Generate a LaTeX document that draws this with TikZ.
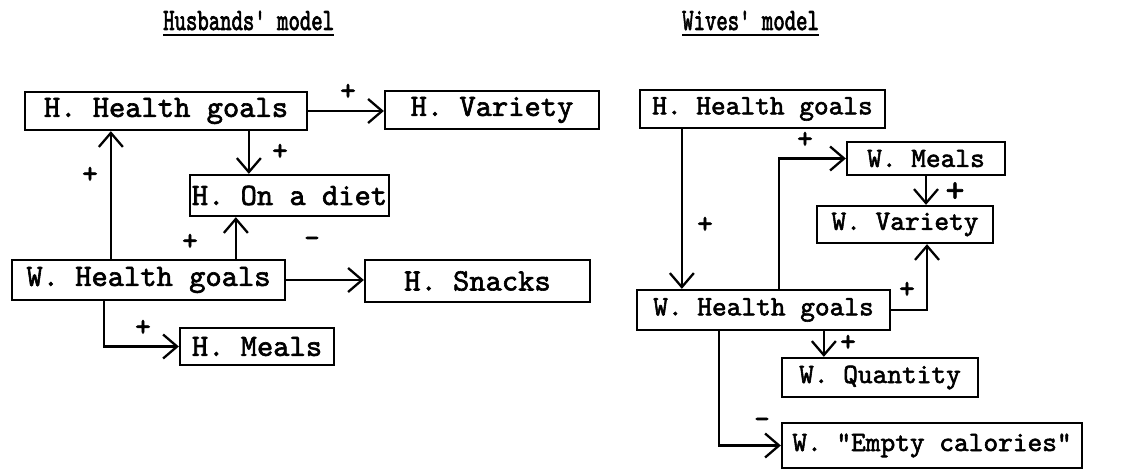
\documentclass[tikz,border=0pt]{standalone}
\usepackage{fontspec}
\newfontfamily\tw{lmmono10-regular.otf}[FakeBold=2]
\newfontfamily\twh{lmmono10-regular.otf}[FakeBold=2.6]
\usetikzlibrary{arrows.meta,calc}

\tikzset{
  box/.style={draw, line width=2.3pt, inner sep=0pt, rectangle},
  lbox/.style={box, font=\tw\fontsize{31}{34}\selectfont},
  rbox/.style={box, font=\tw\fontsize{28}{32}\selectfont},
  arr/.style={line width=2.3pt, -{Straight Barb[length=14pt,width=24pt,line width=2.3pt]}},
  sign/.style={font=\tw\fontsize{30}{32}\selectfont, inner sep=0pt},
  title/.style={font=\twh\fontsize{31}{34}\selectfont, inner sep=0pt, anchor=base west},
}

\begin{document}
\begin{tikzpicture}[x=1pt, y=-1pt]
\useasboundingbox (0,0) rectangle (1139,470);

% titles
\node[title] (t1) at (163,30) {\scalebox{0.70}[1]{Husbands' model}};
\node[title] (t2) at (682,30) {\scalebox{0.70}[1]{Wives' model}};
\draw[line width=2.6pt] ($(t1.base west)+(0,5)$) -- ($(t1.base east)+(0,5)$);
\draw[line width=2.6pt] ($(t2.base west)+(0,5)$) -- ($(t2.base east)+(0,5)$);

% husbands' model
\node[lbox, minimum width=282pt, minimum height=38pt] (hhL) at (166,111) {H. Health goals};
\node[lbox, minimum width=214pt, minimum height=38pt] (hvar) at (492,110) {H. Variety};
\node[lbox, minimum width=199pt, minimum height=41pt] (hdiet) at (289.5,195.5) {H. On a diet};
\node[lbox, minimum width=273pt, minimum height=40pt] (whL) at (148.5,280) {W. Health goals};
\node[lbox, minimum width=225pt, minimum height=42pt] (hsnack) at (477.5,281) {H. Snacks};
\node[lbox, minimum width=154pt, minimum height=37pt] (hmeals) at (257,346.5) {H. Meals};

\coordinate (c1) at ($(hdiet.north west)+(60,0)$);
\coordinate (c2) at ($(whL.north west)+(100,0)$);
\coordinate (c3) at ($(whL.north west)+(225,0)$);
\coordinate (c4) at ($(whL.south west)+(93,0)$);

\draw[arr] (hhL.east) -- (hhL.east -| hvar.west);
\draw[arr] (c1 |- hhL.south) -- (c1);
\draw[arr] (c2) -- (c2 |- hhL.south);
\draw[arr] (c3) -- (c3 |- hdiet.south);
\draw[arr] (whL.east) -- (whL.east -| hsnack.west);
\draw[arr] (c4) |- (hmeals.west);

\node[sign] (s1) at (348,92) {+};
\node[sign] (s2) at (280,152) {+};
\node[sign] (s3) at (90,175) {+};
\node[sign] (s4) at (190,242) {+};
\node[sign] (s5) at (312,242) {-};
\node[sign] (s6) at (143,328) {+};

% wives' model
\node[rbox, minimum width=245pt, minimum height=38pt] (hhR) at (762.5,109) {H. Health goals};
\node[rbox, minimum width=158pt, minimum height=33pt] (wmeals) at (926,158.5) {W. Meals};
\node[rbox, minimum width=176pt, minimum height=37pt] (wvar) at (905,224.5) {W. Variety};
\node[rbox, minimum width=253pt, minimum height=40pt] (whR) at (763.5,310) {W. Health goals};
\node[rbox, minimum width=196pt, minimum height=39pt] (wqty) at (880,377.5) {W. Quantity};
\node[rbox, minimum width=300pt, minimum height=45pt] (wempty) at (932,445.5) {W. "Empty calories"};

\coordinate (d1) at ($(hhR.south west)+(43,0)$);
\coordinate (d2) at ($(whR.north west)+(143,0)$);
\coordinate (d3) at ($(wvar.south)+(22,0)$);
\coordinate (d4) at ($(whR.south west)+(188,0)$);
\coordinate (d5) at ($(whR.south west)+(83,0)$);

\draw[arr] (d1) -- (d1 |- whR.north);
\draw[arr] (d2) |- (wmeals.west);
\draw[arr] (wmeals.south) -- (wmeals.south |- wvar.north);
\draw[arr] (whR.east) -| (d3);
\draw[arr] (d4) -- (d4 |- wqty.north);
\draw[arr] (d5) |- (wempty.west);

\node[sign] (r1) at (705,225) {+};
\node[sign] (r2) at (805,140) {+};
\node[sign, font=\tw\fontsize{36}{38}\selectfont] (r3) at (955,192) {+};
\node[sign] (r4) at (907,290) {+};
\node[sign] (r5) at (848,343) {+};
\node[sign] (r6) at (762,423) {-};
\end{tikzpicture}
\end{document}
